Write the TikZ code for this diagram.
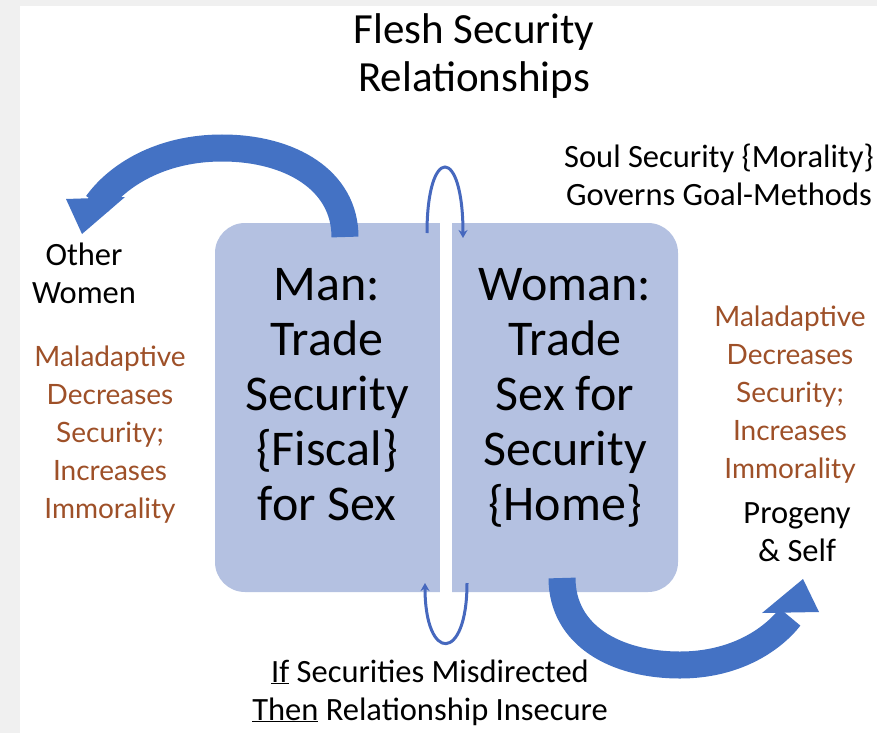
\documentclass[tikz,border=0pt]{standalone}
\usepackage{fontspec}
\setmainfont{Carlito}
\newfontfamily\gillfont{Lato}
\usetikzlibrary{arrows.meta}
\definecolor{bggrey}{RGB}{240,240,240}
\definecolor{boxfill}{RGB}{180,193,225}
\definecolor{arrowblue}{RGB}{68,114,196}
\definecolor{thinblue}{RGB}{70,104,190}
\definecolor{rust}{RGB}{158,80,40}
\tikzset{
  txt/.style={align=center, anchor=base, inner sep=0pt, text=black},
  titletxt/.style={txt, font=\fontsize{43}{48}\selectfont},
  boxtxt/.style={txt, font=\fontsize{50}{55}\selectfont},
  smalltxt/.style={txt, font=\fontsize{32.5}{38}\selectfont},
  warntxt/.style={txt, text=rust, font=\gillfont\fontsize{28}{38}\selectfont},
  bigarrow/.style={draw=arrowblue, line width=27pt, line cap=butt},
  bighead/.style={fill=arrowblue},
  loop/.style={draw=thinblue, line width=3pt, -{Stealth[length=8pt,width=9pt]}},
}
\begin{document}
\begin{tikzpicture}[x=1pt,y=-1pt]
\useasboundingbox (0,0) rectangle (877,733);
\fill[bggrey] (0,0) rectangle (877,733);
\fill[white] (20,6) rectangle (877,733);
% split rounded panel
\fill[boxfill, rounded corners=30pt] (215,223) rectangle (678,592);
\fill[white] (440,218) rectangle (452,597);
% (anchor=base is the baseline of the LAST line)
\node[boxtxt] (man) at (327,520) {Man:\\Trade\\Security\\\{Fiscal\}\\for Sex};
\node[boxtxt] (woman) at (565,520) {Woman:\\Trade\\Sex for\\Security\\\{Home\}};
% title
\node[titletxt] (title) at (474,92) {Flesh Security\\Relationships};
\node[smalltxt] (soul) at (719,205) {Soul Security \{Morality\}\\Governs Goal-Methods};
\node[smalltxt] (other) at (84,303) {Other\\Women};
\node[warntxt] (warnl) at (110,518) {Maladaptive\\Decreases\\Security;\\Increases\\Immorality};
\node[warntxt] (warnr) at (790,478) {Maladaptive\\Decreases\\Security;\\Increases\\Immorality};
\node[smalltxt] (progeny) at (797,561) {Progeny\\\& Self};
\node[smalltxt] (cond) at (430,720) {\underline{If} Securities Misdirected\\\underline{Then} Relationship Insecure};
% big curved arrows
\coordinate (ltail) at (345,237);
\coordinate (ltop) at (222,148);
\coordinate (lend) at (97,204);
\draw[bigarrow] (ltail) .. controls (345,180) and (290,148) .. (ltop)
   .. controls (160,148) and (117,176) .. (lend);
\fill[bighead] (66,199) -- (125,197) -- (82,234) -- cycle;
\coordinate (rtail) at (562,578);
\coordinate (rbot) at (680,665);
\coordinate (rend) at (790,617);
\draw[bigarrow] (rtail) .. controls (562,635) and (615,665) .. (rbot)
   .. controls (735,665) and (772,640) .. (rend);
\fill[bighead] (762,613) -- (819,612) -- (803,579) -- cycle;
% thin loops between the two halves
\coordinate (tl) at (427,233);
\coordinate (tr) at (463,238);
\draw[loop] (tl) .. controls (427,145) and (463,145) .. (tr);
\coordinate (br) at (467,583);
\coordinate (bl) at (425,583);
\draw[loop] (br) .. controls (467,663) and (425,663) .. (bl);
\end{tikzpicture}
\end{document}
